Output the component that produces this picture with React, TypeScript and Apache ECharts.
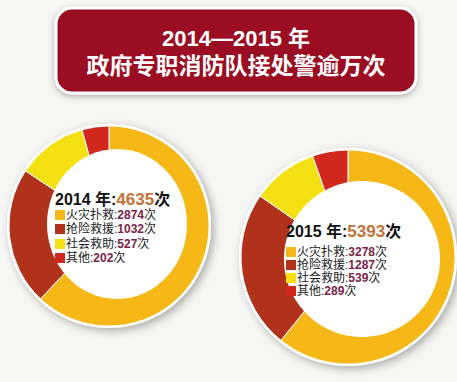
import React, { useEffect, useRef } from "react";
import * as echarts from "echarts";

const categories = ["火灾扑救", "抢险救援", "社会救助", "其他"];
const years = ["2014", "2015"];
const totals = [4635, 5393];
const values2014 = [2874, 1032, 527, 202];
const values2015 = [3278, 1287, 539, 289];
const titleLines = ["2014—2015 年", "政府专职消防队接处警逾万次"];

const COLORS = ["#f5b816", "#b0321a", "#f5e012", "#d0281c"];
const FONT = "'Liberation Sans','Noto Sans CJK SC',sans-serif";

export default function App() {
  const ref = useRef<HTMLDivElement>(null);
  useEffect(() => {
    document.body.style.margin = "0";
    const chart = echarts.init(ref.current!, null, { renderer: "svg" });

    const donuts = [
      { cx: 109, cy: 226, R: 100, hx: 117, hy: 224, hrx: 70, hry: 75, tx: 55, ty: 199, lys: [215, 229, 244, 258], values: values2014 },
      { cx: 348, cy: 257, R: 107, hx: 362, hy: 259, hrx: 78, hry: 78, tx: 286, ty: 231, lys: [252, 265, 278, 291], values: values2015 },
    ];

    const series: any[] = donuts.map((d) => ({
      type: "pie",
      center: [d.cx, d.cy],
      radius: [0, d.R],
      startAngle: 90,
      clockwise: true,
      silent: true,
      z: 2,
      label: { show: false },
      labelLine: { show: false },
      itemStyle: { borderColor: "#ffffff", borderWidth: 1 },
      data: d.values.map((v, k) => ({ name: categories[k], value: v, itemStyle: { color: COLORS[k] } })),
    }));

    const graphic: any[] = [
      {
        type: "rect",
        shape: { x: 56, y: 8, width: 360, height: 85, r: 16 },
        style: { fill: "#9a0c24", stroke: "#ffffff", lineWidth: 3, shadowBlur: 6, shadowColor: "rgba(0,0,0,0.3)", shadowOffsetY: 2 },
        z: 1,
      },
      {
        type: "text",
        x: 236,
        y: 38,
        style: { text: titleLines[0], fill: "#ffffff", font: `bold 22px ${FONT}`, align: "center", verticalAlign: "middle" },
        z: 3,
      },
      {
        type: "text",
        x: 236,
        y: 66,
        style: { text: titleLines[1], fill: "#ffffff", font: `bold 23px ${FONT}`, align: "center", verticalAlign: "middle" },
        z: 3,
      },
    ];

    donuts.forEach((d, i) => {
      graphic.push({
        type: "circle",
        shape: { cx: d.cx, cy: d.cy, r: d.R + 2 },
        style: { fill: "#ffffff", shadowBlur: 8, shadowColor: "rgba(0,0,0,0.3)", shadowOffsetX: 3, shadowOffsetY: 3 },
        z: 0,
      });
      graphic.push({
        type: "ellipse",
        shape: { cx: d.hx, cy: d.hy, rx: d.hrx, ry: d.hry },
        style: { fill: "#ffffff" },
        z: 10,
      });
      graphic.push({
        type: "text",
        x: d.tx,
        y: d.ty,
        style: {
          text: `{y|${years[i]} 年:}{n|${totals[i]}}{y|次}`,
          align: "left",
          verticalAlign: "middle",
          rich: {
            y: { font: `bold 16px ${FONT}`, fill: "#111111", lineHeight: 14 },
            n: { font: `bold 17px ${FONT}`, fill: "#c47238", lineHeight: 14 },
          },
        },
        z: 11,
      });
      d.values.forEach((v, k) => {
        graphic.push({
          type: "rect",
          shape: { x: d.tx, y: d.lys[k] - 5, width: 10, height: 10 },
          style: { fill: COLORS[k] },
          z: 11,
        });
        graphic.push({
          type: "text",
          x: d.tx + 11,
          y: d.lys[k],
          style: {
            text: `{c|${categories[k]}:}{n|${v}}{c|次}`,
            align: "left",
            verticalAlign: "middle",
            rich: {
              c: { font: `12px ${FONT}`, fill: "#1a1a1a", lineHeight: 12 },
              n: { font: `bold 12px ${FONT}`, fill: "#7a2448", lineHeight: 12 },
            },
          },
          z: 11,
        });
      });
    });

    chart.setOption({
      animation: false,
      backgroundColor: "#f6f6f4",
      series,
      graphic,
    });
    return () => chart.dispose();
  }, []);
  return <div ref={ref} style={{ position: "fixed", left: 0, top: 0, width: 457, height: 382 }} />;
}
